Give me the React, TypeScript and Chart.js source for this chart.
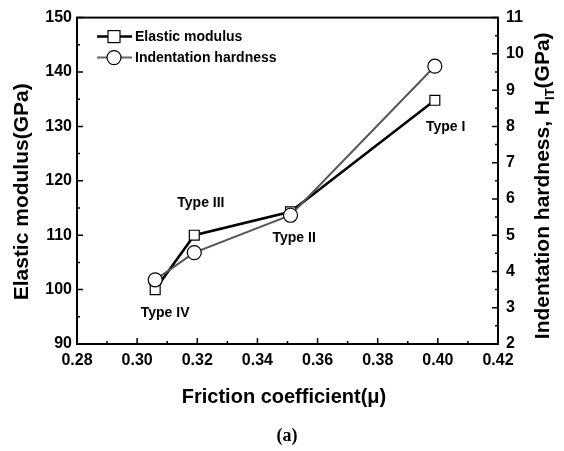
import React, { useEffect, useRef } from "react";
import { Chart, registerables } from "chart.js";

Chart.register(...registerables);

// ---- data ----
const frictionCoefficient = [0.306, 0.319, 0.351, 0.399];
const elasticModulus = [100, 110, 114.3, 134.8];
const indentationHardness = [3.77, 4.52, 5.55, 9.66];

const seriesNames = ["Elastic modulus", "Indentation hardness"];

const typeLabels = ["Type I", "Type II", "Type III", "Type IV"];
const typeLabelX = [0.4026, 0.3522, 0.3212, 0.3093];
const typeLabelY = [129.8, 109.5, 115.9, 95.7];

const xMin = 0.28, xMax = 0.42, xStep = 0.02;
const yMin = 90, yMax = 150, yStep = 10;
const y1Min = 2, y1Max = 11, y1Step = 1;

const FONT = "'Liberation Sans', Arial, sans-serif";

const decorPlugin = {
  id: "decor",
  afterDraw(chart: any) {
    const { ctx, chartArea: ca, scales } = chart;
    const xs = scales.x, ys = scales.y, y1s = scales.y1;
    ctx.save();
    ctx.strokeStyle = "#000";
    // frame
    ctx.lineWidth = 2;
    ctx.strokeRect(ca.left, ca.top, ca.right - ca.left, ca.bottom - ca.top);
    // ticks (inside)
    ctx.lineWidth = 1.5;
    ctx.beginPath();
    const nx = Math.round((xMax - xMin) / 0.01);
    for (let i = 0; i <= nx; i++) {
      const v = xMin + i * 0.01;
      const px = xs.getPixelForValue(v);
      const len = i % 2 === 0 ? 6 : 3;
      ctx.moveTo(px, ca.bottom);
      ctx.lineTo(px, ca.bottom - len);
    }
    const ny = Math.round((yMax - yMin) / 5);
    for (let i = 0; i <= ny; i++) {
      const py = ys.getPixelForValue(yMin + i * 5);
      const len = i % 2 === 0 ? 6 : 3;
      ctx.moveTo(ca.left, py);
      ctx.lineTo(ca.left + len, py);
    }
    const ny1 = Math.round((y1Max - y1Min) / 0.5);
    for (let i = 0; i <= ny1; i++) {
      const py = y1s.getPixelForValue(y1Min + i * 0.5);
      const len = i % 2 === 0 ? 6 : 3;
      ctx.moveTo(ca.right, py);
      ctx.lineTo(ca.right - len, py);
    }
    ctx.stroke();

    // type labels
    ctx.fillStyle = "#000";
    ctx.font = `bold 14px ${FONT}`;
    ctx.textAlign = "center";
    ctx.textBaseline = "middle";
    typeLabels.forEach((t, i) => {
      ctx.fillText(t, xs.getPixelForValue(typeLabelX[i]), ys.getPixelForValue(typeLabelY[i]));
    });

    // legend
    const lx0 = ca.left + 20, lx1 = ca.left + 55, mx = ca.left + 37;
    const rows = [ca.top + 19, ca.top + 40];
    // elastic
    ctx.strokeStyle = "#000";
    ctx.lineWidth = 2.5;
    ctx.beginPath();
    ctx.moveTo(lx0, rows[0]);
    ctx.lineTo(lx1, rows[0]);
    ctx.stroke();
    ctx.fillStyle = "#fff";
    ctx.lineWidth = 1.2;
    ctx.fillRect(mx - 6, rows[0] - 6, 12, 12);
    ctx.strokeRect(mx - 6, rows[0] - 6, 12, 12);
    // hardness
    ctx.strokeStyle = "#666";
    ctx.lineWidth = 2;
    ctx.beginPath();
    ctx.moveTo(lx0, rows[1]);
    ctx.lineTo(lx1, rows[1]);
    ctx.stroke();
    ctx.strokeStyle = "#000";
    ctx.lineWidth = 1.2;
    ctx.beginPath();
    ctx.arc(mx, rows[1], 7, 0, Math.PI * 2);
    ctx.fill();
    ctx.stroke();
    ctx.fillStyle = "#000";
    ctx.font = `bold 14px ${FONT}`;
    ctx.textAlign = "left";
    ctx.textBaseline = "middle";
    ctx.fillText(seriesNames[0], lx1 + 3, rows[0] + 1);
    ctx.fillText(seriesNames[1], lx1 + 3, rows[1] + 1);

    // axis titles
    ctx.font = `bold 21px ${FONT}`;
    ctx.textAlign = "center";
    ctx.textBaseline = "middle";
    ctx.save();
    ctx.translate(22, (ca.top + ca.bottom) / 2 + 11);
    ctx.rotate(-Math.PI / 2);
    ctx.fillText("Elastic modulus(GPa)", 0, 0);
    ctx.restore();

    // right title with subscript
    ctx.save();
    ctx.translate(543, (ca.top + ca.bottom) / 2 + 5);
    ctx.rotate(-Math.PI / 2);
    const p1 = "Indentation hardness, H";
    const sub = "IT";
    const p2 = "(GPa)";
    ctx.font = `bold 21px ${FONT}`;
    const w1 = ctx.measureText(p1).width;
    const w3 = ctx.measureText(p2).width;
    ctx.font = `bold 13px ${FONT}`;
    const w2 = ctx.measureText(sub).width;
    const total = w1 + w2 + w3;
    let cx = -total / 2;
    ctx.textAlign = "left";
    ctx.font = `bold 21px ${FONT}`;
    ctx.fillText(p1, cx, 0);
    cx += w1;
    ctx.font = `bold 13px ${FONT}`;
    ctx.fillText(sub, cx, 7);
    cx += w2;
    ctx.font = `bold 21px ${FONT}`;
    ctx.fillText(p2, cx, 0);
    ctx.restore();

    ctx.textAlign = "center";
    ctx.font = `bold 20px ${FONT}`;
    ctx.fillText("Friction coefficient(\u03bc)", 284, 397);
    ctx.font = `bold 18px 'Liberation Serif', 'Times New Roman', serif`;
    ctx.fillText("(a)", 287, 436);
    ctx.restore();
  },
};

export default function App() {
  const ref = useRef<HTMLCanvasElement | null>(null);
  useEffect(() => {
    if (!ref.current) return;
    const tickFont = { family: FONT, size: 16, weight: "bold" as const };
    const chart = new Chart(ref.current, {
      type: "scatter",
      data: {
        datasets: [
          {
            label: seriesNames[0],
            data: frictionCoefficient.map((x, i) => ({ x, y: elasticModulus[i] })),
            yAxisID: "y",
            showLine: true,
            borderColor: "#000",
            borderWidth: 2.5,
            pointStyle: "rect",
            pointRadius: 7,
            pointBackgroundColor: "#fff",
            pointBorderColor: "#000",
            pointBorderWidth: 1.2,
            order: 1,
          },
          {
            label: seriesNames[1],
            data: frictionCoefficient.map((x, i) => ({ x, y: indentationHardness[i] })),
            yAxisID: "y1",
            showLine: true,
            borderColor: "#555",
            borderWidth: 2,
            pointStyle: "circle",
            pointRadius: 7,
            pointBackgroundColor: "#fff",
            pointBorderColor: "#000",
            pointBorderWidth: 1.2,
            order: 0,
          },
        ],
      },
      options: {
        responsive: false,
        animation: false,
        devicePixelRatio: 1,
        layout: { padding: { top: 15, left: 0, right: 0, bottom: 0 } },
        plugins: { legend: { display: false }, tooltip: { enabled: false } },
        scales: {
          x: {
            type: "linear",
            min: xMin,
            max: xMax,
            grid: { display: false, drawTicks: false },
            border: { display: false },
            ticks: {
              stepSize: xStep,
              padding: 7,
              color: "#000",
              font: tickFont,
              callback: (v: any) => Number(v).toFixed(2),
            },
            afterFit: (s: any) => { s.height = 107; },
          },
          y: {
            type: "linear",
            position: "left",
            min: yMin,
            max: yMax,
            grid: { display: false, drawTicks: false },
            border: { display: false },
            ticks: { stepSize: yStep, padding: 5, color: "#000", font: tickFont },
            afterFit: (s: any) => { s.width = 77; },
          },
          y1: {
            type: "linear",
            position: "right",
            min: y1Min,
            max: y1Max,
            grid: { display: false, drawTicks: false },
            border: { display: false },
            ticks: { stepSize: y1Step, padding: 8, color: "#000", font: tickFont },
            afterFit: (s: any) => { s.width = 66; },
          },
        },
      },
      plugins: [decorPlugin],
    });
    return () => chart.destroy();
  }, []);
  return (
    <div style={{ position: "absolute", left: 0, top: 0, width: 564, height: 451, background: "#fff" }}>
      <canvas ref={ref} width={564} height={451} style={{ width: 564, height: 451 }} />
    </div>
  );
}
